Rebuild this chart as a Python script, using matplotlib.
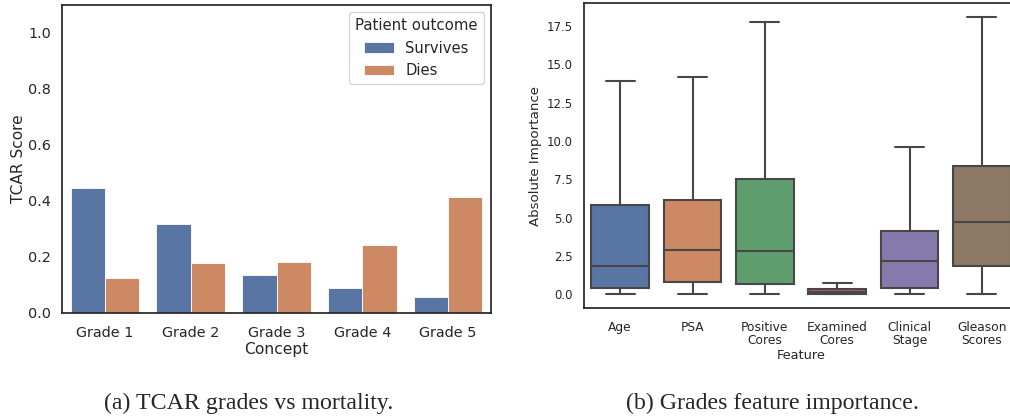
import numpy as np
import pandas as pd
import matplotlib
matplotlib.use("Agg")
import matplotlib.pyplot as plt
import seaborn as sns

# left panel: TCAR score per grade and outcome
grades = ["Grade 1", "Grade 2", "Grade 3", "Grade 4", "Grade 5"]
survives = [0.448, 0.319, 0.134, 0.090, 0.058]
dies = [0.125, 0.177, 0.181, 0.244, 0.414]

# right panel: box stats of feature importance
features = ["Age", "PSA", "Positive\nCores", "Examined\nCores", "Clinical\nStage", "Gleason\nScores"]
whis_lo = [0.0, 0.0, 0.0, 0.0, 0.0, 0.0]
q1 = [0.41, 0.80, 0.67, 0.02, 0.39, 1.87]
med = [1.87, 2.90, 2.84, 0.17, 2.17, 4.68]
q3 = [5.79, 6.14, 7.50, 0.33, 4.10, 8.39]
whis_hi = [13.9, 14.18, 17.78, 0.70, 9.63, 18.1]

sns.set_theme(style="white")
plt.rcParams["font.family"] = ["DejaVu Sans"]

fig = plt.figure(figsize=(10.1, 4.17), dpi=100)
W, H = 1010, 417

# ---- (a) grouped bars
ax1 = fig.add_axes([62 / W, 1 - 313 / H, (491 - 62) / W, (313 - 5) / H])
pal = sns.color_palette("deep", 6, desat=0.75)
x = np.arange(len(grades))
ax1.bar(x - 0.2, survives, width=0.4, color=pal[0], edgecolor="white", linewidth=0.6, label="Survives")
ax1.bar(x + 0.2, dies, width=0.4, color=pal[1], edgecolor="white", linewidth=0.6, label="Dies")
ax1.set_xticks(x)
ax1.set_xticklabels(grades)
ax1.set_xlim(-0.5, 4.5)
ax1.set_ylim(0, 1.1)
ax1.set_yticks([0, 0.2, 0.4, 0.6, 0.8, 1.0])
ax1.tick_params(axis="x", labelsize=10.4)
ax1.tick_params(axis="y", labelsize=10.4, length=0, pad=7.9)
ax1.set_xlabel("Concept", fontsize=11.2, labelpad=1)
ax1.set_ylabel("TCAR Score", fontsize=11.1)
ax1.yaxis.set_label_coords(-0.084, 0.5)
ax1.legend(title="Patient outcome", fontsize=10.6, title_fontsize=10.7, loc="upper right")

# ---- (b) boxplots
ax2 = fig.add_axes([584 / W, 1 - 308 / H, (1018 - 584) / W, (308 - 3) / H])
stats = []
for i in range(len(features)):
    stats.append({"whislo": whis_lo[i], "q1": q1[i], "med": med[i], "q3": q3[i],
                  "whishi": whis_hi[i], "fliers": []})
lc = "#474747"
bp = ax2.bxp(stats, positions=range(len(features)), widths=0.8, patch_artist=True,
             showfliers=False,
             boxprops=dict(edgecolor=lc, linewidth=1.5),
             medianprops=dict(color=lc, linewidth=1.5),
             whiskerprops=dict(color=lc, linewidth=1.5),
             capprops=dict(color=lc, linewidth=1.5))
for patch, c in zip(bp["boxes"], pal):
    patch.set_facecolor(c)
ax2.set_xlim(-0.5, 5.5)
ax2.set_ylim(-0.9, 19.0)
ax2.set_yticks([0, 2.5, 5, 7.5, 10, 12.5, 15, 17.5])
ax2.set_xticks(range(len(features)))
ax2.set_xticklabels(features, linespacing=1.0)
ax2.tick_params(axis="x", labelsize=8.8)
ax2.tick_params(axis="y", labelsize=8.5, length=0, pad=7.9)
ax2.set_xlabel("Feature", fontsize=9.3, labelpad=1)
ax2.set_ylabel("Absolute Importance", fontsize=9.6)
ax2.yaxis.set_label_coords(-0.097, 0.5)

# captions
fig.text(249 / W, 1 - 403 / H, "(a) TCAR grades vs mortality.", ha="center", va="center",
         family="Liberation Serif", fontsize=17.2)
fig.text(772 / W, 1 - 403 / H, "(b) Grades feature importance.", ha="center", va="center",
         family="Liberation Serif", fontsize=17.2)

fig.savefig("out.png", dpi=100)
